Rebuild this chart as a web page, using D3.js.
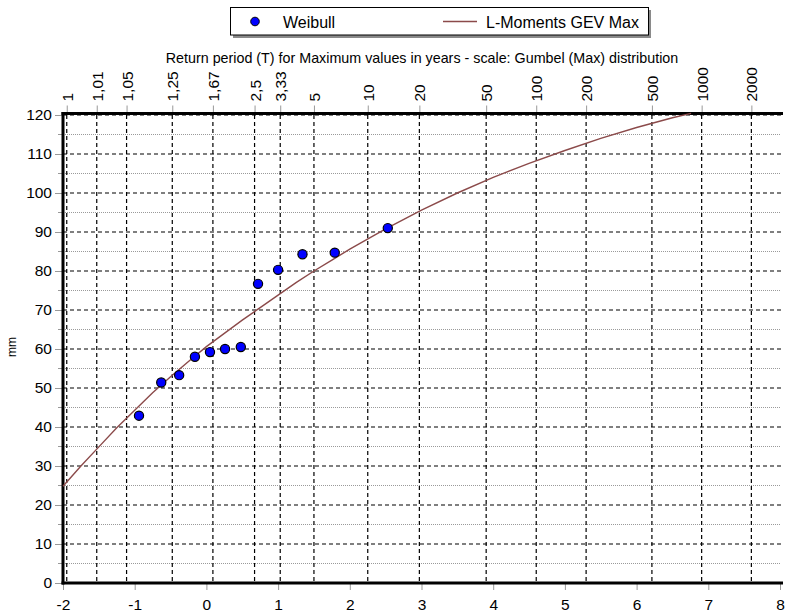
<!DOCTYPE html>
<html>
<head>
<meta charset="utf-8">
<script src="https://cdn.jsdelivr.net/npm/d3@7/dist/d3.min.js"></script>
<style>
  html, body { margin: 0; padding: 0; background: #fff; }
  svg { display: block; font-family: "Liberation Sans", Arial, sans-serif; }
</style>
</head>
<body>
<svg id="chart" width="785" height="612"></svg>
<script>
// Observed annual maxima (mm), sorted, with their Gumbel reduced variates (Weibull plotting positions)
const weibullVariate = [-0.94, -0.63, -0.38, -0.16, 0.05, 0.26, 0.48, 0.72, 1.00, 1.34, 1.79, 2.53];
const weibullValue   = [42.9, 51.4, 53.3, 58.0, 59.2, 60.0, 60.5, 76.7, 80.3, 84.3, 84.7, 91.0];

// Fitted L-Moments GEV curve (reduced variate, mm)
const gevVariate = [-2.00, -1.75, -1.50, -1.25, -1.00, -0.75, -0.50, -0.25, 0.00, 0.25, 0.50, 0.75,
                    1.00, 1.25, 1.50, 1.75, 2.00, 2.50, 3.00, 3.50, 4.00, 4.50, 5.00, 5.50, 6.00, 6.50, 6.76];
const gevValue   = [24.8, 30.0, 34.9, 39.8, 44.3, 48.8, 52.9, 56.8, 60.6, 64.0, 67.4, 70.6,
                    73.8, 77.0, 80.0, 82.8, 85.6, 90.8, 95.6, 100.0, 104.0, 107.6, 110.9, 114.0, 116.8, 119.3, 120.4];

// Return periods marked on the top axis (years)
const returnPeriods = [1, 1.01, 1.05, 1.25, 1.67, 2.5, 3.33, 5, 10, 20, 50, 100, 200, 500, 1000, 2000];
const bottomTicks = [-2, -1, 0, 1, 2, 3, 4, 5, 6, 7, 8];
const yMajorTicks = [0, 10, 20, 30, 40, 50, 60, 70, 80, 90, 100, 110, 120];
const yMinorTicks = [5, 15, 25, 35, 45, 55, 65, 75, 85, 95, 105, 115];

const svg = d3.select("#chart");
const L = 63, R = 780, T = 115, B = 583;

const x = d3.scaleLinear().domain([-2, 8]).range([L, R]);
const y = d3.scaleLinear().domain([0, 120]).range([B, T]);

// Gumbel reduced variate of a return period; T = 1 is pinned just inside the left edge
const gumbel = t => -Math.log(-Math.log(Math.max(1 - 1 / t, 9e-4)));
const fmtT = t => String(t).replace(".", ",");

const grid = svg.append("g");

// Minor horizontal grid (grey)
grid.selectAll("line.minor").data(yMinorTicks).join("line")
  .attr("x1", L).attr("x2", R)
  .attr("y1", d => y(d)).attr("y2", d => y(d))
  .attr("stroke", "#9a9a9a").attr("stroke-width", 1).attr("stroke-dasharray", "1,1");

// Major horizontal grid (black dashed)
grid.selectAll("line.major").data(yMajorTicks.filter(d => d > 0)).join("line")
  .attr("x1", L).attr("x2", R + 2)
  .attr("y1", d => y(d)).attr("y2", d => y(d))
  .attr("stroke", "#000").attr("stroke-width", 1.2).attr("stroke-dasharray", "4,3");

// Vertical grid at return periods
grid.selectAll("line.vert").data(returnPeriods).join("line")
  .attr("x1", d => x(gumbel(d))).attr("x2", d => x(gumbel(d)))
  .attr("y1", T).attr("y2", B)
  .attr("stroke", "#000").attr("stroke-width", 1.2).attr("stroke-dasharray", "4,3");

// Axes
const axisLeftG = svg.append("g").attr("transform", `translate(${L},0)`)
  .call(d3.axisLeft(y).tickValues(yMajorTicks).tickSize(8).tickPadding(3));
axisLeftG.append("g").selectAll("line").data(yMinorTicks).join("line")
  .attr("x1", -5).attr("x2", 0).attr("y1", d => y(d)).attr("y2", d => y(d))
  .attr("stroke", "#999");

const axisBottomG = svg.append("g").attr("transform", `translate(0,${B})`)
  .call(d3.axisBottom(x).tickValues(bottomTicks).tickFormat(d => String(d)).tickSize(7));
axisBottomG.selectAll(".tick text").attr("dy", null).attr("y", 26.5);

const axisTopG = svg.append("g").attr("transform", `translate(0,${T - 1.5})`)
  .call(d3.axisTop(x).tickValues(returnPeriods.map(gumbel)).tickSize(8)
        .tickFormat((d, i) => fmtT(returnPeriods[i])));
axisTopG.selectAll(".tick text")
  .attr("transform", "rotate(-90)")
  .attr("x", 12).attr("y", 0).attr("dy", "0.36em")
  .attr("text-anchor", "start");

[axisLeftG, axisBottomG, axisTopG].forEach(g => {
  g.select(".domain").remove();
  g.selectAll(".tick line").attr("stroke", "#999");
  g.selectAll(".tick text").attr("fill", "#000").attr("font-size", 15.5)
    .attr("font-family", "Liberation Sans, Arial, sans-serif");
});

// Plot frame (left, bottom, top)
const frame = svg.append("g").attr("stroke", "#000").attr("stroke-width", 3).attr("fill", "none");
frame.append("line").attr("x1", L).attr("x2", L).attr("y1", T - 3).attr("y2", B + 1.5);
frame.append("line").attr("x1", L - 1.5).attr("x2", R + 3).attr("y1", B).attr("y2", B);
frame.append("line").attr("x1", L - 1.5).attr("x2", R + 3).attr("y1", T - 1.5).attr("y2", T - 1.5);

// GEV curve
const line = d3.line().x(d => x(d[0])).y(d => y(d[1]));
svg.append("path")
  .datum(d3.zip(gevVariate, gevValue))
  .attr("d", line)
  .attr("fill", "none").attr("stroke", "#8b4a4a").attr("stroke-width", 1.4);

// Weibull points
svg.append("g").selectAll("circle").data(d3.zip(weibullVariate, weibullValue)).join("circle")
  .attr("cx", d => x(d[0])).attr("cy", d => y(d[1])).attr("r", 4.6)
  .attr("fill", "#0000ff").attr("stroke", "#000").attr("stroke-width", 1.2);

// Axis titles
svg.append("text").attr("x", 422).attr("y", 63).attr("text-anchor", "middle")
  .attr("font-size", 14.3).text("Return period (T) for Maximum values in years - scale: Gumbel (Max) distribution");
svg.append("text").attr("transform", "translate(16,347) rotate(-90)").attr("text-anchor", "middle")
  .attr("font-size", 12).text("mm");

// Legend
const lg = svg.append("g");
lg.append("rect").attr("x", 233).attr("y", 10).attr("width", 418).attr("height", 28).attr("fill", "#8a8a8a");
lg.append("rect").attr("x", 230.5).attr("y", 7.5).attr("width", 418).attr("height", 27.5)
  .attr("fill", "#fff").attr("stroke", "#000").attr("stroke-width", 1);
lg.append("circle").attr("cx", 255).attr("cy", 21.5).attr("r", 4.3)
  .attr("fill", "#0000ff").attr("stroke", "#000").attr("stroke-width", 1);
lg.append("text").attr("x", 283).attr("y", 27.5).attr("font-size", 16).text("Weibull");
lg.append("line").attr("x1", 443).attr("x2", 477).attr("y1", 21.5).attr("y2", 21.5)
  .attr("stroke", "#8b4a4a").attr("stroke-width", 1.4);
lg.append("text").attr("x", 486).attr("y", 27.5).attr("font-size", 16).text("L-Moments GEV Max");
</script>
</body>
</html>
